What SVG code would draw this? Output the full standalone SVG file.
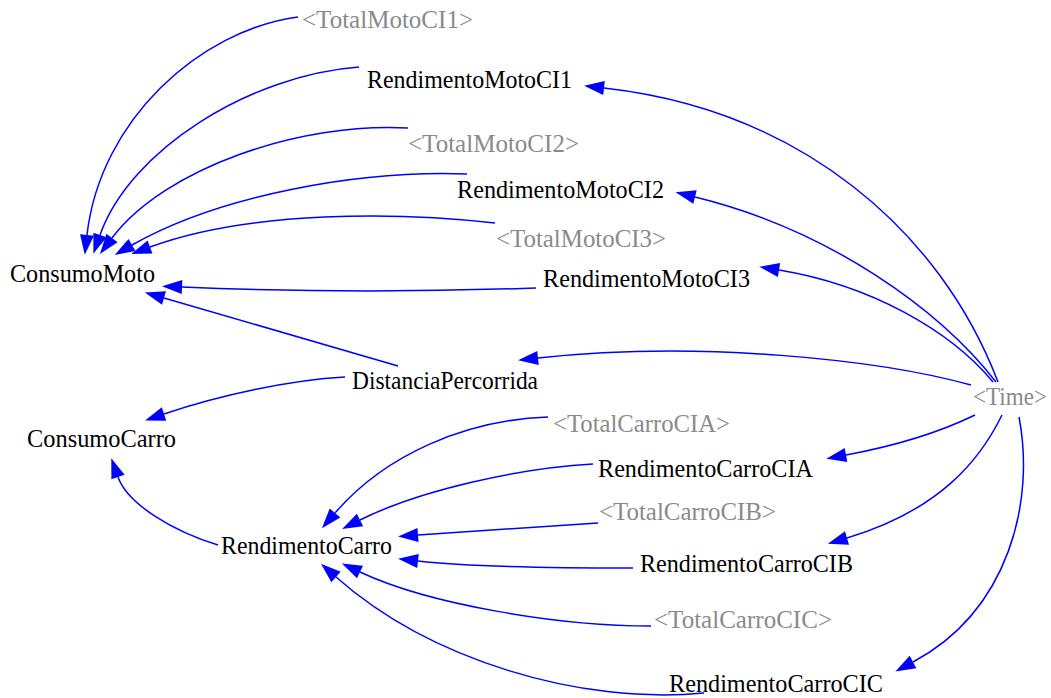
<svg xmlns="http://www.w3.org/2000/svg" width="1051" height="698" viewBox="0 0 1051 698">
  <defs>
    <marker id="arrow" markerUnits="userSpaceOnUse" markerWidth="22" markerHeight="16" refX="0" refY="7" orient="auto" overflow="visible">
      <path d="M0,0 L20,7 L0,14 Z" fill="#0000ff"/>
    </marker>
    <style>
      .lbl { font-family: "Liberation Serif", "Times New Roman", serif; font-size: 25px; fill: #000; }
      .shadow { fill: #8a8a8a; }
      .edge { fill: none; stroke: #0000ff; stroke-width: 1.5; marker-end: url(#arrow); }
    </style>
  </defs>
  <rect width="1051" height="698" fill="#fff"/>

  <!-- connectors -->
  <g id="connectors">
    <!-- into ConsumoMoto -->
    <path class="edge" d="M298,17 C200,30 100,120 87,235"/>
    <path class="edge" d="M359,67 C250,75 130,150 100,235"/>
    <path class="edge" d="M408,128 C300,122 165,168 112,238"/>
    <path class="edge" d="M467,174 C360,170 220,195 132,245"/>
    <path class="edge" d="M495,223 C400,212 250,210 150,247"/>
    <path class="edge" d="M536,288 C420,292 300,292 182,287"/>
    <path class="edge" d="M398,366 L164,298"/>
    <!-- into ConsumoCarro -->
    <path class="edge" d="M345,377 C290,380 220,395 164,414"/>
    <path class="edge" d="M218,545 C175,532 128,505 118,477"/>
    <!-- into RendimentoCarro -->
    <path class="edge" d="M548,417 C465,420 385,455 335,513"/>
    <path class="edge" d="M593,464 C520,468 420,490 360,520"/>
    <path class="edge" d="M598,523 C530,527 470,531 418,535"/>
    <path class="edge" d="M633,568 C560,568 470,567 418,561"/>
    <path class="edge" d="M651,626 C560,626 430,605 360,572"/>
    <path class="edge" d="M704,693 C580,705 430,660 336,577"/>
    <!-- from Time -->
    <path class="edge" d="M998,382 C940,230 800,110 604,88"/>
    <path class="edge" d="M996,382 C940,310 830,230 695,197"/>
    <path class="edge" d="M993,382 C950,330 870,285 779,270"/>
    <path class="edge" d="M971,385 C880,360 700,340 538,358"/>
    <path class="edge" d="M975,415 C940,432 900,445 846,455"/>
    <path class="edge" d="M1002,415 C980,460 940,510 847,538"/>
    <path class="edge" d="M1019,417 C1035,500 1010,610 913,662"/>
  </g>

  <!-- nodes -->
  <g id="TotalMotoCI1"><text class="lbl shadow" x="302" y="28" textLength="171" lengthAdjust="spacingAndGlyphs">&lt;TotalMotoCI1&gt;</text></g>
  <g id="RendimentoMotoCI1"><text class="lbl" x="367" y="88" textLength="205" lengthAdjust="spacingAndGlyphs">RendimentoMotoCI1</text></g>
  <g id="TotalMotoCI2"><text class="lbl shadow" x="408" y="152" textLength="171" lengthAdjust="spacingAndGlyphs">&lt;TotalMotoCI2&gt;</text></g>
  <g id="RendimentoMotoCI2"><text class="lbl" x="457" y="198" textLength="207" lengthAdjust="spacingAndGlyphs">RendimentoMotoCI2</text></g>
  <g id="TotalMotoCI3"><text class="lbl shadow" x="496" y="247" textLength="170" lengthAdjust="spacingAndGlyphs">&lt;TotalMotoCI3&gt;</text></g>
  <g id="RendimentoMotoCI3"><text class="lbl" x="543" y="287" textLength="207" lengthAdjust="spacingAndGlyphs">RendimentoMotoCI3</text></g>
  <g id="ConsumoMoto"><text class="lbl" x="10" y="282" textLength="145" lengthAdjust="spacingAndGlyphs">ConsumoMoto</text></g>
  <g id="DistanciaPercorrida"><text class="lbl" x="352" y="389" textLength="186" lengthAdjust="spacingAndGlyphs">DistanciaPercorrida</text></g>
  <g id="Time"><text class="lbl shadow" x="973" y="405" textLength="74" lengthAdjust="spacingAndGlyphs">&lt;Time&gt;</text></g>
  <g id="ConsumoCarro"><text class="lbl" x="27" y="447" textLength="149" lengthAdjust="spacingAndGlyphs">ConsumoCarro</text></g>
  <g id="TotalCarroCIA"><text class="lbl shadow" x="553" y="432" textLength="177" lengthAdjust="spacingAndGlyphs">&lt;TotalCarroCIA&gt;</text></g>
  <g id="RendimentoCarroCIA"><text class="lbl" x="598" y="477" textLength="215" lengthAdjust="spacingAndGlyphs">RendimentoCarroCIA</text></g>
  <g id="TotalCarroCIB"><text class="lbl shadow" x="599" y="520" textLength="177" lengthAdjust="spacingAndGlyphs">&lt;TotalCarroCIB&gt;</text></g>
  <g id="RendimentoCarroCIB"><text class="lbl" x="640" y="572" textLength="213" lengthAdjust="spacingAndGlyphs">RendimentoCarroCIB</text></g>
  <g id="RendimentoCarro"><text class="lbl" x="221" y="554" textLength="171" lengthAdjust="spacingAndGlyphs">RendimentoCarro</text></g>
  <g id="TotalCarroCIC"><text class="lbl shadow" x="654" y="628" textLength="178" lengthAdjust="spacingAndGlyphs">&lt;TotalCarroCIC&gt;</text></g>
  <g id="RendimentoCarroCIC"><text class="lbl" x="669" y="692" textLength="214" lengthAdjust="spacingAndGlyphs">RendimentoCarroCIC</text></g>
</svg>
